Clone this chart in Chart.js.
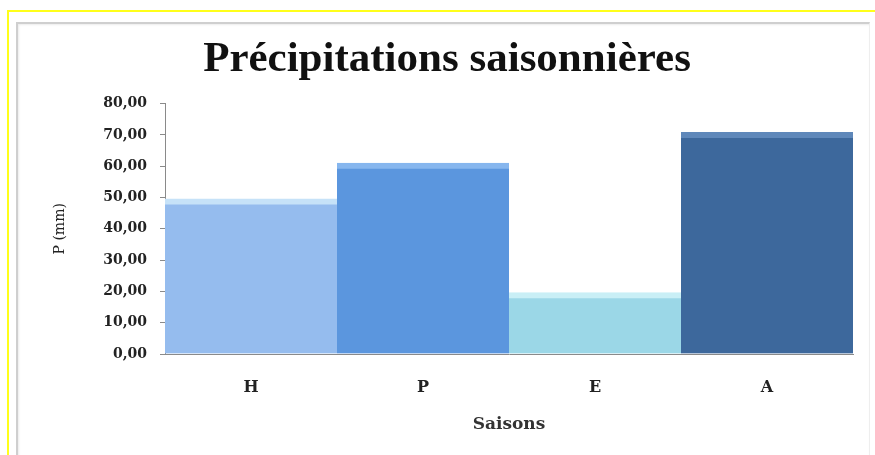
<!DOCTYPE html>
<html lang="fr">
<head>
<meta charset="utf-8">
<title>Précipitations saisonnières</title>
<script src="https://cdn.jsdelivr.net/npm/chart.js@4"></script>
<style>
  html, body { margin: 0; padding: 0; background: #fff; }
  #wrap { position: relative; width: 875px; height: 455px; overflow: hidden; }
  /* yellow outer border of the screenshot */
  .yellow { position: absolute; left: 7px; top: 10px; right: -4px; bottom: -4px;
            border-top: 2px solid #ffff1a; border-left: 2px solid #ffff1a; }
  /* grey frame of the chart object */
  .frame { position: absolute; left: 16px; top: 22px; right: 5px; bottom: -4px;
           border-top: 2px solid #cfcfcf; border-left: 2px solid #cfcfcf;
           border-right: 1px solid #eeeeee;
           box-shadow: inset 1px 1px 2px rgba(0,0,0,0.08); }
  canvas { position: absolute; left: 0; top: 0; }
</style>
</head>
<body>
<div id="wrap">
  <div class="yellow"></div>
  <div class="frame"></div>
  <canvas id="rainChart" width="875" height="455"></canvas>
</div>

<script>
/* ── Data ───────────────────────────────────────────────────── */

const seasons   = ["H", "P", "E", "A"];
const rainfall  = [49.6, 61.0, 19.6, 70.8];           // P (mm)
const barFill   = ["#95bcee", "#5b96de", "#9bd7e7", "#3d689c"];
const barTop    = ["#c6e2f8", "#86b6ee", "#c9eff6", "#5f88ba"];

const Y_MIN = 0, Y_MAX = 80, Y_STEP = 10;

/* ── Chart ──────────────────────────────────────────────────── */

const serif = "'DejaVu Serif', 'Liberation Serif', serif";

new Chart(document.getElementById("rainChart"), {
  type: "bar",
  data: {
    labels: seasons,
    datasets: [{
      data: rainfall,
      backgroundColor: barFill,
      borderColor: barTop,
      borderWidth: { top: 6, left: 0, right: 0, bottom: 0 },
      borderSkipped: "bottom",
      barPercentage: 1,
      categoryPercentage: 1,
    }],
  },
  options: {
    responsive: false,
    animation: false,
    // left padding shifts the title centre to match the original
    layout: { padding: { top: 0, left: 41, right: 22, bottom: 9 } },
    plugins: {
      legend: { display: false },
      tooltip: { enabled: false },
      title: {
        display: true,
        text: "Précipitations saisonnières",
        color: "#111",
        font: { family: "'Liberation Serif', 'Times New Roman', serif", size: 43, weight: "bold" },
        padding: { top: 34, bottom: 18 },
      },
    },
    scales: {
      x: {
        afterFit: s => { s.height = 92; },
        grid: { display: false, drawTicks: false },
        border: { display: true, color: "#8a8a8a", width: 1 },
        ticks: { color: "#222", padding: 24, font: { family: serif, size: 16, weight: "bold" } },
        title: {
          display: true, text: "Saisons", color: "#333",
          font: { family: serif, size: 17, weight: "bold" },
          padding: { top: 0, bottom: 11 },
        },
      },
      y: {
        min: Y_MIN, max: Y_MAX,
        afterFit: s => { s.width = 124; },
        grid: { drawOnChartArea: false, drawTicks: true, tickLength: 5, color: "#8a8a8a" },
        border: { display: true, color: "#8a8a8a", width: 1 },
        ticks: {
          stepSize: Y_STEP,
          padding: 13,
          color: "#222",
          font: { family: serif, size: 14, weight: "bold" },
          callback: v => v.toFixed(2).replace(".", ","),
        },
        title: {
          display: true, text: "P (mm)", color: "#222",
          font: { family: serif, size: 14 },
          padding: { top: 11, bottom: 0 },
        },
      },
    },
  },
});
</script>
</body>
</html>
